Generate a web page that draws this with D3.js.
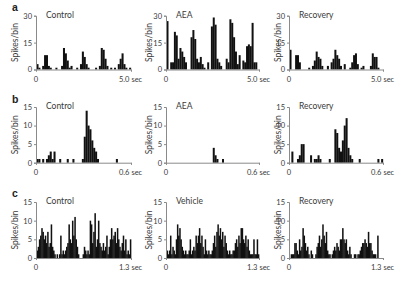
<!DOCTYPE html>
<html><head><meta charset="utf-8">
<script src="https://cdn.jsdelivr.net/npm/d3@7"></script>
<style>html,body{margin:0;padding:0;background:#fff}svg{display:block}</style>
</head><body>
<svg id="c" width="398" height="282"></svg>
<script>
// ---- data (spikes per bin) ----
const rowLetters = ["a", "b", "c"];
const panelTitles = [["Control", "AEA", "Recovery"], ["Control", "AEA", "Recovery"], ["Control", "Vehicle", "Recovery"]];
const xEndLabels = ["5.0 sec", "0.6 sec", "1.3 sec"];
const yTicksA = [0, 15, 30];
const yTicksBC = [0, 5, 10, 15];
const yLabel = "Spikes/bin";

const ctrlA = [3,1,0,2,8,8,2,1,0,0,1,0,0,2,12,9,5,1,2,0,0,1,0,3,10,7,3,1,0,0,0,1,0,2,12,11,6,2,0,1,0,1,0,3,6,9,3,1,0,1];
const aeaA  = [27,0,4,4,21,19,6,12,10,7,4,0,0,18,22,17,6,4,7,3,1,0,4,0,24,29,25,6,4,2,0,0,6,4,28,26,18,10,3,8,0,5,4,13,14,13,26,4,4,0];
const recA  = [11,0,0,8,8,4,0,0,0,0,1,0,2,5,10,7,6,2,0,0,2,0,4,6,11,8,6,2,0,3,0,0,1,4,8,9,3,0,1,2,0,0,0,2,9,7,7,1,0,0];

const ctrlB = [1,1,0,1,0,1,2,3,1,3,0,0,1,0,0,0,1,0,0,1,0,0,0,0,1,7,14,10,9,6,4,3,1,0,0,0,0,0,0,0,0,0,1,0,0,0,0,0,0,0];
const aeaB  = [0,0,0,0,0,0,0,0,0,0,0,0,0,0,0,0,0,0,0,0,0,0,0,0,0,4,2,1,0,0,1,0,0,0,0,0,0,0,0,0,0,0,0,0,0,0,0,0,0,0];
const recB  = [0,3,0,0,1,2,5,5,0,0,0,2,0,1,1,2,1,0,0,0,0,1,0,0,9,8,4,3,6,10,12,4,2,1,0,0,0,1,0,0,0,0,0,0,0,0,0,1,0,1];

const ctrlC = [2,3,5,6,8,7,5,6,4,7,3,4,9,3,2,1,0,1,0,1,6,1,2,1,2,3,4,9,5,4,10,6,11,5,3,1,0,0,0,1,3,2,1,2,1,10,9,4,7,12,3,5,10,4,3,2,4,2,3,6,1,3,5,8,5,6,7,4,8,5,3,2,4,6,2,5,1,2,1,5];
const vehC  = [2,1,2,6,1,3,2,1,5,9,6,8,5,3,2,1,2,1,1,2,5,1,2,3,2,6,4,6,8,4,6,3,1,5,2,1,2,1,1,2,4,6,3,7,9,6,8,5,7,3,6,4,2,1,2,1,1,2,2,4,5,3,6,4,8,8,5,4,6,3,5,2,1,1,1,5,1,1,5,1];
const recC  = [0,1,1,1,4,4,2,1,5,2,3,8,6,4,2,3,1,0,2,1,0,0,1,3,4,6,3,5,9,6,4,7,2,1,1,0,1,2,3,2,4,3,2,5,5,8,5,4,5,2,1,3,1,0,0,1,1,0,1,1,2,3,4,4,5,4,3,7,4,4,2,1,1,1,0,6,0,0,0,0];

const panelData = [[ctrlA, aeaA, recA], [ctrlB, aeaB, recB], [ctrlC, vehC, recC]];

// ---- layout ----
const cols = [{x0: 36, x1: 131, lab: 15}, {x0: 166, x1: 259, lab: 149}, {x0: 289, x1: 383, lab: 278}];
const rows = [
  {y0: 69.5, yT: 15.7, max: 30, ticks: yTicksA, letterY: 11},
  {y0: 162.7, yT: 107, max: 15, ticks: yTicksBC, letterY: 103},
  {y0: 258, yT: 202, max: 15, ticks: yTicksBC, letterY: 197}
];
const font = "Lato, 'Open Sans', sans-serif";
const txt = "#3a3a3a", axc = "#8a8a8a";

const svg = d3.select("#c");

rows.forEach((r, ri) => {
  svg.append("text").attr("x", 12).attr("y", r.letterY).text(rowLetters[ri])
    .attr("font-family", "Arial, 'Liberation Sans', sans-serif").attr("font-weight", "bold")
    .attr("font-size", 10.5).attr("fill", "#222");
  cols.forEach((c, ci) => {
    const data = panelData[ri][ci];
    const x = d3.scaleBand().domain(d3.range(data.length)).range([c.x0 + 0.5, c.x1]).paddingInner(0).paddingOuter(0);
    const y = d3.scaleLinear().domain([0, r.max]).range([r.y0, r.yT]);
    const g = svg.append("g");
    const ov = ri === 2 ? 0.35 : 0.15;

    g.selectAll("rect").data(data).join("rect")
      .attr("x", (d, i) => x(i)).attr("width", x.bandwidth() + ov)
      .attr("y", d => y(d)).attr("height", d => y(0) - y(d))
      .attr("fill", "#111");

    // y axis
    const ya = d3.axisLeft(y).tickValues(r.ticks).tickSize(2).tickPadding(2).tickFormat(d3.format("d"));
    const yg = g.append("g").attr("transform", `translate(${c.x0},0)`).call(ya);
    yg.select(".domain").attr("stroke", axc);
    yg.selectAll(".tick line").attr("stroke", axc);
    yg.selectAll(".tick text").attr("fill", txt).attr("font-size", 7.5).attr("font-family", font);

    // x axis
    const xs = d3.scaleLinear().domain([0, 1]).range([c.x0, c.x1]);
    const xa = d3.axisBottom(xs).tickValues([0, 1]).tickSize(2).tickFormat(() => "");
    const xg = g.append("g").attr("transform", `translate(0,${r.y0})`).call(xa);
    xg.select(".domain").attr("stroke", axc);
    xg.selectAll(".tick line").attr("stroke", axc);

    g.append("text").attr("x", c.x0).attr("y", r.y0 + 12).attr("text-anchor", "middle")
      .text("0").attr("fill", txt).attr("font-size", 7.5).attr("font-family", font);
    g.append("text").attr("x", c.x1 - 12).attr("y", r.y0 + 12).attr("text-anchor", "start")
      .text(xEndLabels[ri]).attr("fill", txt).attr("font-size", 7.5).attr("font-family", font);

    // title
    g.append("text").attr("x", c.x0 + 10).attr("y", r.yT + 2).text(panelTitles[ri][ci])
      .attr("fill", txt).attr("font-size", 8.5).attr("font-family", font);

    // y label
    const cy = (r.y0 + r.yT) / 2;
    g.append("text").attr("transform", `translate(${c.lab},${cy}) rotate(-90)`)
      .attr("text-anchor", "middle").attr("dominant-baseline", "central")
      .text(yLabel).attr("fill", txt).attr("font-size", 8.5).attr("font-family", font);
  });
});
</script>
</body></html>
